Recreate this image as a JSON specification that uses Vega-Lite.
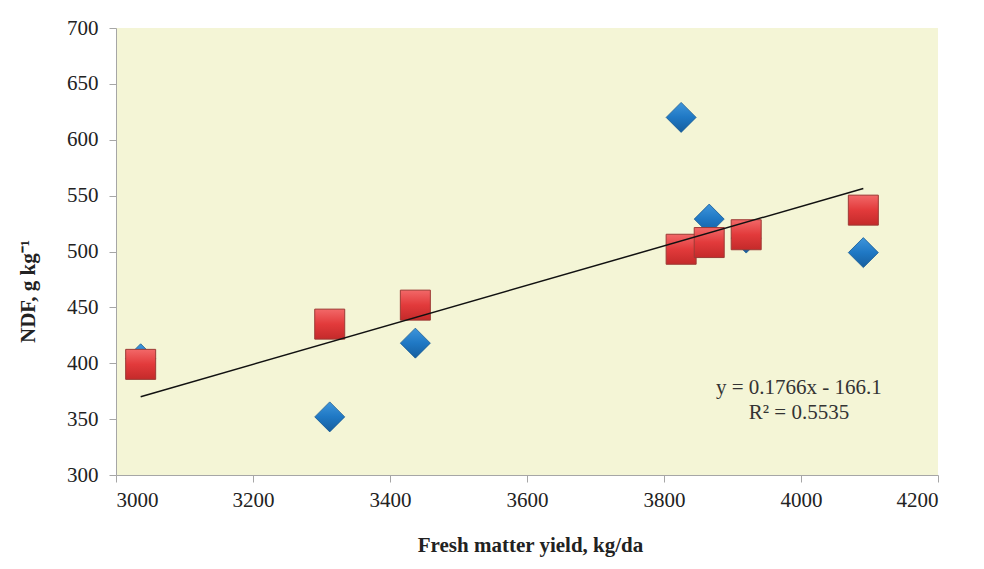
{
  "$schema": "https://vega.github.io/schema/vega-lite/v6.json",
  "width": 822,
  "height": 447,
  "autosize": {"type": "none"},
  "padding": {"left": 116, "top": 28, "right": 46, "bottom": 94},
  "background": "white",
  "config": {
    "view": {"fill": "#F4F5D6", "stroke": null},
    "font": "Liberation Serif",
    "style": {
      "guide-label": {"font": "Liberation Serif", "fontSize": 21, "fill": "#222222"},
      "guide-title": {"font": "Liberation Serif", "fontSize": 21, "fontWeight": "bold", "fill": "#222222"}
    },
    "axis": {
      "grid": false,
      "domainColor": "#A6A6A6",
      "tickColor": "#A6A6A6",
      "tickSize": 7,
      "labelFont": "Liberation Serif",
      "labelFontSize": 21,
      "labelColor": "#222222",
      "titleFont": "Liberation Serif",
      "titleFontSize": 21,
      "titleFontWeight": "bold",
      "titleColor": "#222222"
    }
  },
  "datasets": {
    "points": [
      {"series": "A", "yield": 3036, "ndf": 404},
      {"series": "A", "yield": 3312, "ndf": 352},
      {"series": "A", "yield": 3437, "ndf": 418},
      {"series": "A", "yield": 3825, "ndf": 620},
      {"series": "A", "yield": 3866, "ndf": 529},
      {"series": "A", "yield": 3920, "ndf": 512},
      {"series": "A", "yield": 4091, "ndf": 499},
      {"series": "B", "yield": 3036, "ndf": 399},
      {"series": "B", "yield": 3312, "ndf": 435},
      {"series": "B", "yield": 3437, "ndf": 452},
      {"series": "B", "yield": 3825, "ndf": 502},
      {"series": "B", "yield": 3866, "ndf": 508},
      {"series": "B", "yield": 3920, "ndf": 515},
      {"series": "B", "yield": 4091, "ndf": 537}
    ],
    "trend": [
      {"yield": 3036, "ndf": 370.1},
      {"yield": 4091, "ndf": 556.4}
    ],
    "notes": [
      {"yield": 3997, "ndf": 378, "label": "y = 0.1766x - 166.1"},
      {"yield": 3997, "ndf": 355.5, "label": "R² = 0.5535"}
    ]
  },
  "encoding": {
    "x": {
      "field": "yield", "type": "quantitative",
      "scale": {"domain": [3000, 4200], "nice": false, "zero": false},
      "axis": {"values": [3000, 3200, 3400, 3600, 3800, 4000, 4200], "format": "d", "labelFont": "Liberation Serif", "labelFontSize": 21, "title": "Fresh matter yield, kg/da", "labelPadding": 7, "titleX": 414, "titleY": 70, "titleBaseline": "middle", "titleAlign": "center"}
    },
    "y": {
      "field": "ndf", "type": "quantitative",
      "scale": {"domain": [300, 700], "nice": false, "zero": false},
      "axis": {"values": [300, 350, 400, 450, 500, 550, 600, 650, 700], "format": "d", "labelFont": "Liberation Serif", "labelFontSize": 21, "title": "NDF, g kg⁻¹", "labelPadding": 11, "titleX": -88, "titleY": 263, "titleAngle": -90, "titleAlign": "center", "titleBaseline": "middle"}
    }
  },
  "layer": [
    {
      "data": {"name": "points"},
      "transform": [{"filter": "datum.series === 'A'"}],
      "mark": {
        "type": "point", "shape": "diamond", "size": 900, "filled": true, "opacity": 1,
        "fill": {"gradient": "linear", "x1": 0, "y1": 0, "x2": 0, "y2": 1,
          "stops": [{"offset": 0, "color": "#3E95DB"}, {"offset": 0.5, "color": "#1F78C4"}, {"offset": 1, "color": "#165E9E"}]},
        "stroke": "#175A94", "strokeWidth": 0.8
      }
    },
    {
      "data": {"name": "points"},
      "transform": [{"filter": "datum.series === 'B'"}],
      "mark": {
        "type": "point", "shape": "square", "size": 900, "filled": true, "opacity": 1,
        "fill": {"gradient": "linear", "x1": 0, "y1": 0, "x2": 0, "y2": 1,
          "stops": [{"offset": 0, "color": "#F26868"}, {"offset": 0.5, "color": "#E23A3B"}, {"offset": 1, "color": "#C42A2A"}]},
        "stroke": "#9C3A35", "strokeWidth": 1
      }
    },
    {
      "data": {"name": "trend"},
      "mark": {"type": "line", "color": "#111111", "strokeWidth": 1.5}
    },
    {
      "data": {"name": "notes"},
      "mark": {"type": "text", "align": "center", "baseline": "middle", "fontSize": 21, "color": "#333333", "font": "Liberation Serif"},
      "encoding": {"text": {"field": "label"}}
    }
  ]
}
